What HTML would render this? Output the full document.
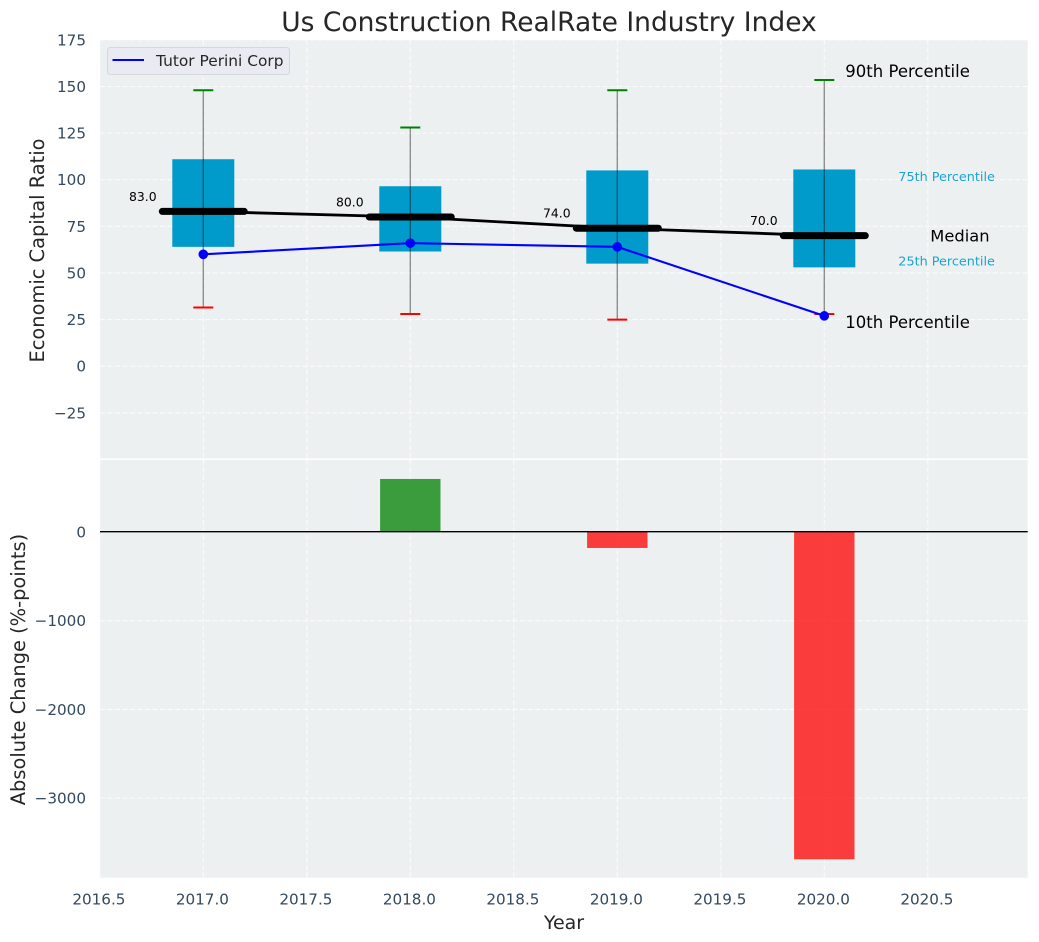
<!DOCTYPE html>
<html>
<head>
<meta charset="utf-8">
<title>Us Construction RealRate Industry Index</title>
<style>
html,body{margin:0;padding:0;background:#fff;width:1039px;height:942px;overflow:hidden}
svg{display:block}
text{font-family:"DejaVu Sans","Liberation Sans",sans-serif}
</style>
</head>
<body>
<svg id="chart" xmlns="http://www.w3.org/2000/svg" width="1039" height="942" viewBox="0 0 1039 942"></svg>
<script>
const years = [2017, 2018, 2019, 2020];
const p90 = [148, 128, 148, 153.5];
const p75 = [111, 96.5, 105, 105.5];
const medians = [83, 80, 74, 70];
const p25 = [64, 61.5, 55, 53];
const p10 = [31.5, 28, 25, 28];
const company = [60, 66, 64, 27];
const changes = [598, -180, -3690];
const changeYears = [2018, 2019, 2020];
const xTicks = ['2016.5', '2017.0', '2017.5', '2018.0', '2018.5', '2019.0', '2019.5', '2020.0', '2020.5'];
const topTicks = [175, 150, 125, 100, 75, 50, 25, 0, -25];
const bottomTicks = [0, -1000, -2000, -3000];

const svg = document.getElementById('chart');
const NS = 'http://www.w3.org/2000/svg';
const L = 100, R = 1027.7, T1 = 40, B1 = 458.5, T2 = 460, B2 = 877.7;
const xs = v => 203.3 + (v - 2017) * 207.0;
const yTop = v => 366.2 - v * 1.8647;
const yBot = v => 532 - v * 0.0887;
const fmt = v => String(v).replace('-', '\u2212');

function mk(tag, attrs, parent) {
  const el = document.createElementNS(NS, tag);
  for (const k in attrs) el.setAttribute(k, attrs[k]);
  (parent || svg).appendChild(el);
  return el;
}
function line(x1, y1, x2, y2, stroke, sw, extra, parent) {
  return mk('line', Object.assign({x1, y1, x2, y2, stroke, 'stroke-width': sw}, extra || {}), parent);
}
function txt(s, x, y, size, fill, anchor, parent) {
  const t = mk('text', {x, y, 'font-size': size, fill, 'text-anchor': anchor || 'start'}, parent);
  t.textContent = s;
  return t;
}
const dash = {'stroke-dasharray': '5 2.5', 'stroke-opacity': 0.75};
const tickColor = '#34495e', labelColor = '#262626';

/* panels */
const topPanel = mk('rect', {x: L, y: T1, width: R - L, height: B1 - T1, fill: '#ecf0f1'});


const bottomPanel = mk('rect', {x: L, y: T2, width: R - L, height: B2 - T2, fill: '#ecf0f1'});



/* grid */
const grid = mk('g', {});


xTicks.forEach(t => {
  const x = xs(parseFloat(t));
  line(x, T1, x, B1, '#fff', 1.1, dash, grid);
  line(x, T2, x, B2, '#fff', 1.1, dash, grid);
});
topTicks.forEach(t => line(L, yTop(t), R, yTop(t), '#fff', 1.1, dash, grid));
bottomTicks.forEach(t => line(L, yBot(t), R, yBot(t), '#fff', 1.1, dash, grid));

/* boxes */
years.forEach((yr, i) => {
  const box = mk('rect', {
    x: xs(yr) - 31, y: yTop(p75[i]), width: 62,
    height: yTop(p25[i]) - yTop(p75[i]), fill: '#009bcb'
  });
  
  
});

/* whiskers */
years.forEach((yr, i) => {
  const stem = line(xs(yr), yTop(p90[i]), xs(yr), yTop(p10[i]), '#000', 1.4, {'stroke-opacity': 0.42});
  
  
  const hi = line(xs(yr) - 10, yTop(p90[i]), xs(yr) + 10, yTop(p90[i]), '#008000', 2);
  
  
  const lo = line(xs(yr) - 10, yTop(p10[i]), xs(yr) + 10, yTop(p10[i]), '#ff0000', 2);
  
  
});

/* median trend and bars */
const medianLine = mk('polyline', {
  points: years.map((yr, i) => xs(yr) + ',' + yTop(medians[i])).join(' '),
  fill: 'none', stroke: '#000', 'stroke-width': 2.8
});


years.forEach((yr, i) => {
  const m = line(xs(yr) - 41, yTop(medians[i]), xs(yr) + 41, yTop(medians[i]), '#000', 7, {'stroke-linecap': 'round'});
  
  
  const v = txt(medians[i].toFixed(1), xs(yr) - 60.5, yTop(medians[i]) - 10.5, 12.4, '#000', 'middle');
  
  
});

/* company line */
const compLine = mk('polyline', {
  points: years.map((yr, i) => xs(yr) + ',' + yTop(company[i])).join(' '),
  fill: 'none', stroke: '#0000ff', 'stroke-width': 2.1
});


years.forEach((yr, i) => {
  const c = mk('circle', {cx: xs(yr), cy: yTop(company[i]), r: 4.8, fill: '#0000ff'});
  
  
});

/* percentile annotations anchored to the last year */
const last = years.length - 1;
const xLast = xs(years[last]);
const a90 = txt('90th Percentile', xLast + 21, yTop(p90[last]) - 3, 16.5, '#000');


const a10 = txt('10th Percentile', xLast + 21, yTop(p10[last]) + 14, 16.5, '#000');


const aMed = txt('Median', xLast + 106, yTop(medians[last]) + 6, 16.3, '#000');


const a75 = txt('75th Percentile', xLast + 74, yTop(p75[last]) + 11.5, 12.8, '#1ba3d3');


const a25 = txt('25th Percentile', xLast + 74, yTop(p25[last]) - 2, 12.8, '#1ba3d3');



/* change bars */
changeYears.forEach((yr, i) => {
  const v = changes[i];
  const b = mk('rect', {
    x: xs(yr) - 30.2, y: Math.min(yBot(0), yBot(v)), width: 60.4,
    height: Math.abs(yBot(v) - yBot(0)),
    fill: v >= 0 ? '#008000' : '#ff0000', 'fill-opacity': 0.75
  });
  
  
});
const zero = line(L, yBot(0), R, yBot(0), '#000', 1.4, {transform: 'translate(0,-0.3)'});



/* tick labels */
xTicks.forEach(t => {
  const el = txt(t, xs(parseFloat(t)) - 0.9, 904.5, 15.2, tickColor, 'middle');
  
  
});
topTicks.forEach(t => {
  const el = txt(fmt(t), 86, yTop(t) + 5.5, 15.2, tickColor, 'end');
  
  
});
bottomTicks.forEach(t => {
  const el = txt(fmt(t), 86, yBot(t) + 5.5, 15.2, tickColor, 'end');
  
  
});

/* titles */
const title = txt('Us Construction RealRate Industry Index', 549, 31, 26.5, labelColor, 'middle');


const xTitle = txt('Year', 564, 929, 19, labelColor, 'middle');


const yTitleTop = txt('Economic Capital Ratio', 0, 0, 19.4, labelColor, 'middle');
yTitleTop.setAttribute('transform', 'translate(44,250.5) rotate(-90)');


const yTitleBot = txt('Absolute Change (%-points)', 0, 0, 19.4, labelColor, 'middle');
yTitleBot.setAttribute('transform', 'translate(25,669.5) rotate(-90)');



/* legend */
const legend = mk('g', {});


const legendBox = mk('rect', {x: 107.5, y: 47.5, width: 182, height: 27, rx: 3, fill: '#eaeaf2', 'fill-opacity': 0.85, stroke: '#d5d7da', 'stroke-width': 1}, legend);


const legendLine = line(112.5, 60, 144, 60, '#0000ff', 2, {}, legend);


const legendText = txt('Tutor Perini Corp', 156, 65.8, 15.4, labelColor, 'start', legend);


</script>
</body>
</html>
